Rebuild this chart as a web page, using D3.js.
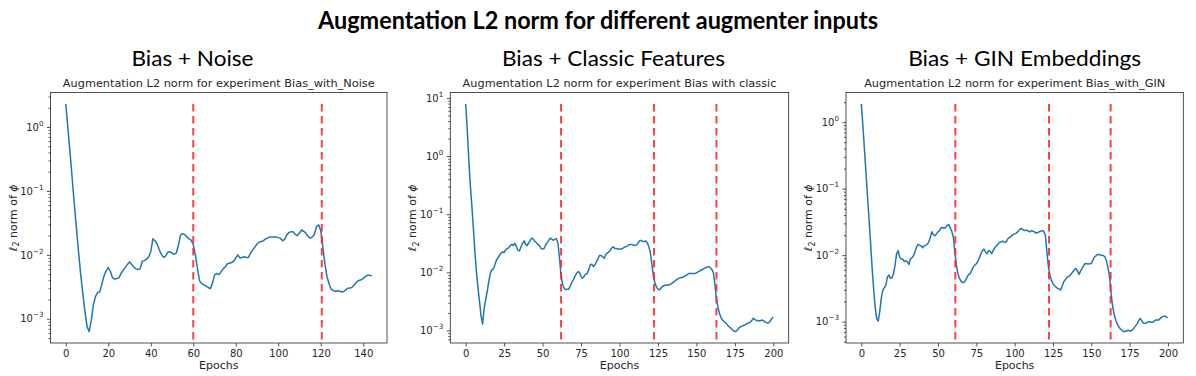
<!DOCTYPE html>
<html>
<head>
<meta charset="utf-8">
<script src="https://cdn.jsdelivr.net/npm/d3@7"></script>
<style>
  body { margin: 0; background: #fff; }
  svg { display: block; }
</style>
</head>
<body>
<svg id="chart"></svg>
<script>
// L2 norm of the augmentation, one value per epoch
const noiseNorm = [
  2.3, 0.95, 0.40, 0.158, 0.063, 0.026, 0.0112, 5.0e-3, 2.5e-3, 1.32e-3,
  7.6e-4, 6.3e-4, 9.5e-4, 1.66e-3, 2.24e-3, 2.57e-3, 2.63e-3, 3.55e-3, 4.68e-3, 5.62e-3,
  6.31e-3, 5.5e-3, 4.37e-3, 4.17e-3, 4.27e-3, 4.37e-3, 5.13e-3, 5.75e-3, 6.31e-3, 7.08e-3,
  7.76e-3, 7.08e-3, 6.46e-3, 6.03e-3, 5.89e-3, 6.03e-3, 7.94e-3, 8.13e-3, 8.51e-3, 9.33e-3,
  1.12e-2, 1.78e-2, 1.66e-2, 1.48e-2, 1.20e-2, 1.02e-2, 9.12e-3, 9.55e-3, 1.10e-2, 1.12e-2,
  1.07e-2, 1.02e-2, 1.07e-2, 1.41e-2, 2.04e-2, 2.14e-2, 2.09e-2, 1.91e-2, 1.78e-2, 1.70e-2,
  1.45e-2, 1.00e-2, 6.03e-3, 3.89e-3, 3.55e-3, 3.39e-3, 3.24e-3, 3.09e-3, 2.95e-3, 3.55e-3,
  4.79e-3, 5.13e-3, 4.90e-3, 5.37e-3, 6.03e-3, 6.46e-3, 7.24e-3, 7.41e-3, 7.59e-3, 7.94e-3,
  8.91e-3, 1.00e-2, 8.91e-3, 9.12e-3, 9.33e-3, 9.12e-3, 9.12e-3, 1.07e-2, 1.20e-2, 1.32e-2,
  1.48e-2, 1.58e-2, 1.62e-2, 1.66e-2, 1.78e-2, 1.82e-2, 1.91e-2, 1.91e-2, 1.91e-2, 1.91e-2,
  1.86e-2, 1.82e-2, 1.66e-2, 1.74e-2, 2.04e-2, 2.24e-2, 2.29e-2, 2.29e-2, 2.09e-2, 2.00e-2,
  2.19e-2, 2.45e-2, 2.34e-2, 2.19e-2, 1.95e-2, 1.82e-2, 1.91e-2, 2.09e-2, 2.75e-2, 2.95e-2,
  2.40e-2, 1.32e-2, 7.08e-3, 4.47e-3, 3.47e-3, 2.88e-3, 2.75e-3, 2.69e-3, 2.75e-3, 2.69e-3,
  2.63e-3, 2.69e-3, 2.88e-3, 3.02e-3, 3.02e-3, 3.16e-3, 3.47e-3, 3.80e-3, 3.98e-3, 4.07e-3,
  4.27e-3, 4.57e-3, 4.79e-3, 4.79e-3, 4.68e-3
];
const classicNorm = [
  7.9, 2.95, 0.89, 0.316, 0.141, 0.0575, 0.0224, 1.02e-2, 5.37e-3, 3.16e-3,
  1.74e-3, 1.29e-3, 2.40e-3, 3.39e-3, 4.68e-3, 6.92e-3, 9.55e-3, 1.10e-2, 1.15e-2, 1.35e-2,
  1.62e-2, 1.78e-2, 1.95e-2, 2.14e-2, 2.24e-2, 2.19e-2, 2.45e-2, 2.57e-2, 2.63e-2, 2.88e-2,
  3.02e-2, 2.88e-2, 3.16e-2, 2.75e-2, 2.40e-2, 2.34e-2, 2.75e-2, 3.16e-2, 3.47e-2, 3.02e-2,
  2.88e-2, 3.24e-2, 3.55e-2, 3.89e-2, 3.72e-2, 3.39e-2, 3.24e-2, 3.02e-2, 2.88e-2, 2.57e-2,
  2.51e-2, 2.57e-2, 2.95e-2, 3.24e-2, 3.55e-2, 3.89e-2, 3.72e-2, 3.55e-2, 3.72e-2, 3.80e-2,
  3.16e-2, 1.74e-2, 8.91e-3, 6.17e-3, 5.37e-3, 5.01e-3, 5.13e-3, 5.13e-3, 5.89e-3, 6.76e-3,
  7.41e-3, 8.51e-3, 9.55e-3, 1.02e-2, 1.00e-2, 8.51e-3, 7.94e-3, 8.51e-3, 9.33e-3, 9.55e-3,
  1.10e-2, 1.35e-2, 1.38e-2, 1.26e-2, 1.35e-2, 1.51e-2, 1.70e-2, 1.95e-2, 1.95e-2, 1.86e-2,
  1.74e-2, 2.00e-2, 2.14e-2, 2.24e-2, 2.40e-2, 2.63e-2, 2.75e-2, 2.57e-2, 2.57e-2, 2.51e-2,
  2.51e-2, 2.51e-2, 2.57e-2, 2.69e-2, 2.75e-2, 2.82e-2, 2.95e-2, 3.02e-2, 3.02e-2, 2.95e-2,
  2.88e-2, 2.95e-2, 3.16e-2, 3.47e-2, 3.55e-2, 3.39e-2, 3.39e-2, 3.47e-2, 3.24e-2, 2.82e-2,
  2.24e-2, 1.41e-2, 8.91e-3, 6.61e-3, 5.62e-3, 5.13e-3, 5.01e-3, 5.37e-3, 5.75e-3, 5.89e-3,
  6.03e-3, 6.03e-3, 6.03e-3, 6.17e-3, 6.46e-3, 6.76e-3, 7.08e-3, 7.41e-3, 7.76e-3, 7.94e-3,
  8.13e-3, 8.13e-3, 8.51e-3, 8.71e-3, 9.12e-3, 9.55e-3, 9.55e-3, 9.55e-3, 9.55e-3, 9.55e-3,
  9.77e-3, 1.02e-2, 1.05e-2, 1.10e-2, 1.12e-2, 1.17e-2, 1.20e-2, 1.23e-2, 1.26e-2, 1.20e-2,
  1.12e-2, 1.00e-2, 6.31e-3, 3.55e-3, 2.51e-3, 1.95e-3, 1.66e-3, 1.51e-3, 1.41e-3, 1.35e-3,
  1.26e-3, 1.17e-3, 1.12e-3, 1.05e-3, 1.00e-3, 9.55e-4, 9.77e-4, 1.05e-3, 1.12e-3, 1.17e-3,
  1.20e-3, 1.23e-3, 1.26e-3, 1.32e-3, 1.35e-3, 1.38e-3, 1.48e-3, 1.62e-3, 1.55e-3, 1.48e-3,
  1.48e-3, 1.45e-3, 1.48e-3, 1.51e-3, 1.45e-3, 1.38e-3, 1.35e-3, 1.35e-3, 1.45e-3, 1.62e-3,
  1.70e-3
];
const ginNorm = [
  1.88, 0.89, 0.40, 0.178, 0.079, 0.0355, 0.0158, 6.61e-3, 3.16e-3, 1.66e-3,
  1.12e-3, 1.02e-3, 1.41e-3, 2.24e-3, 2.95e-3, 3.24e-3, 3.55e-3, 4.68e-3, 5.01e-3, 4.47e-3,
  4.57e-3, 5.25e-3, 7.08e-3, 1.05e-2, 1.17e-2, 9.33e-3, 8.71e-3, 8.71e-3, 7.94e-3, 8.32e-3,
  7.94e-3, 7.24e-3, 8.71e-3, 9.12e-3, 9.77e-3, 1.12e-2, 1.32e-2, 1.45e-2, 1.41e-2, 1.38e-2,
  1.29e-2, 1.38e-2, 1.41e-2, 1.45e-2, 1.58e-2, 1.86e-2, 2.24e-2, 2.04e-2, 1.95e-2, 2.09e-2,
  2.24e-2, 2.34e-2, 2.57e-2, 2.63e-2, 2.51e-2, 2.63e-2, 2.82e-2, 2.88e-2, 2.57e-2, 2.29e-2,
  1.86e-2, 1.12e-2, 7.08e-3, 5.25e-3, 4.47e-3, 4.07e-3, 3.89e-3, 3.89e-3, 4.17e-3, 4.68e-3,
  5.13e-3, 5.25e-3, 5.89e-3, 6.61e-3, 7.08e-3, 7.41e-3, 8.13e-3, 9.12e-3, 1.05e-2, 1.17e-2,
  1.23e-2, 1.12e-2, 1.05e-2, 1.17e-2, 1.15e-2, 1.05e-2, 1.17e-2, 1.29e-2, 1.38e-2, 1.45e-2,
  1.55e-2, 1.58e-2, 1.62e-2, 1.58e-2, 1.55e-2, 1.66e-2, 1.82e-2, 1.86e-2, 1.95e-2, 2.04e-2,
  2.09e-2, 2.14e-2, 2.24e-2, 2.40e-2, 2.51e-2, 2.45e-2, 2.37e-2, 2.34e-2, 2.37e-2, 2.29e-2,
  2.24e-2, 2.34e-2, 2.29e-2, 2.24e-2, 2.14e-2, 2.19e-2, 2.24e-2, 2.29e-2, 2.34e-2, 2.29e-2,
  2.00e-2, 1.12e-2, 6.76e-3, 5.01e-3, 4.17e-3, 3.72e-3, 3.47e-3, 3.31e-3, 3.16e-3, 3.09e-3,
  2.99e-3, 3.39e-3, 3.98e-3, 4.27e-3, 4.57e-3, 4.79e-3, 4.90e-3, 5.25e-3, 5.62e-3, 6.03e-3,
  6.31e-3, 5.75e-3, 5.13e-3, 5.75e-3, 6.31e-3, 6.92e-3, 7.50e-3, 7.41e-3, 7.33e-3, 7.41e-3,
  7.50e-3, 8.32e-3, 9.33e-3, 9.77e-3, 1.02e-2, 1.02e-2, 1.00e-2, 1.00e-2, 9.77e-3, 9.33e-3,
  7.94e-3, 6.31e-3, 4.47e-3, 2.51e-3, 1.66e-3, 1.26e-3, 1.05e-3, 9.12e-4, 8.32e-4, 7.76e-4,
  7.41e-4, 7.08e-4, 7.08e-4, 7.24e-4, 7.41e-4, 7.24e-4, 7.24e-4, 7.59e-4, 8.13e-4, 8.71e-4,
  9.33e-4, 1.05e-3, 1.12e-3, 1.02e-3, 9.55e-4, 9.44e-4, 9.55e-4, 1.00e-3, 1.00e-3, 9.77e-4,
  9.77e-4, 1.02e-3, 1.06e-3, 1.06e-3, 1.06e-3, 1.12e-3, 1.17e-3, 1.20e-3, 1.22e-3, 1.17e-3,
  1.15e-3
];

// epochs where the red dashed markers sit
const noiseResets = [60, 120.5];
const classicResets = [62, 122.4, 163];
const ginResets = [61.3, 122.4, 162.6];

// tick labels
const noiseXTicks = [0, 20, 40, 60, 80, 100, 120, 140];
const longXTicks = [0, 25, 50, 75, 100, 125, 150, 175, 200];
const noiseYTicks = [1, 0.1, 0.01, 0.001];
const classicYTicks = [10, 1, 0.1, 0.01, 0.001];
const ginYTicks = [1, 0.1, 0.01, 0.001];

// text
const mainTitle = "Augmentation L2 norm for different augmenter inputs";
const headings = ["Bias + Noise", "Bias + Classic Features", "Bias + GIN Embeddings"];
const axesTitles = [
  "Augmentation L2 norm for experiment Bias_with_Noise",
  "Augmentation L2 norm for experiment Bias with classic",
  "Augmentation L2 norm for experiment Bias_with_GIN"
];

const width = 1196, height = 376;
const axTop = 92.5, axBottom = 343;
const mplFont = "DejaVu Sans, sans-serif";
const ink = "#262626";

const panels = [
  { values: noiseNorm, resets: noiseResets, xTicks: noiseXTicks, yTicks: noiseYTicks,
    left: 50.5, right: 387, headX: 192.5, headW: 122 },
  { values: classicNorm, resets: classicResets, xTicks: longXTicks, yTicks: classicYTicks,
    left: 450.3, right: 788.7, headX: 613.5, headW: 223 },
  { values: ginNorm, resets: ginResets, xTicks: longXTicks, yTicks: ginYTicks,
    left: 846, right: 1183.3, headX: 1024.7, headW: 233 }
];

const svg = d3.select("#chart")
    .attr("width", width)
    .attr("height", height);

svg.append("rect")
    .attr("width", width)
    .attr("height", height)
    .attr("fill", "#fff");

// slide title
svg.append("text")
    .attr("x", 598)
    .attr("y", 29)
    .attr("text-anchor", "middle")
    .attr("font-family", "Lato, sans-serif")
    .attr("font-weight", "bold")
    .attr("font-size", 25)
    .attr("textLength", 560)
    .attr("lengthAdjust", "spacingAndGlyphs")
    .text(mainTitle);

panels.forEach((p, k) => {
  const n = p.values.length - 1;
  // matplotlib style autoscale: 5% margins (log space for y)
  const x = d3.scaleLinear()
      .domain([-0.05 * n, 1.05 * n])
      .range([p.left, p.right]);
  const [lo, hi] = d3.extent(p.values).map(Math.log10);
  const m = 0.05 * (hi - lo);
  const y = d3.scaleLog()
      .domain([Math.pow(10, lo - m), Math.pow(10, hi + m)])
      .range([axBottom, axTop]);

  const g = svg.append("g");

  // panel heading (slide text)
  g.append("text")
      .attr("x", p.headX)
      .attr("y", 66)
      .attr("text-anchor", "middle")
      .attr("font-family", "Lato, sans-serif")
      .attr("font-size", 21)
      .attr("textLength", p.headW)
      .attr("lengthAdjust", "spacingAndGlyphs")
      .text(headings[k]);

  // axes title
  g.append("text")
      .attr("x", (p.left + p.right) / 2)
      .attr("y", 86.5)
      .attr("text-anchor", "middle")
      .attr("font-family", mplFont)
      .attr("font-size", 11.3)
      .attr("fill", ink)
      .text(axesTitles[k]);

  // data line
  const line = d3.line()
      .x((d, i) => x(i))
      .y(d => y(d));
  g.append("path")
      .datum(p.values)
      .attr("fill", "none")
      .attr("stroke", "#1f77b4")
      .attr("stroke-width", 1.5)
      .attr("stroke-linejoin", "round")
      .attr("d", line);

  // red dashed markers, from the bottom up to the largest value
  const vmax = d3.max(p.values);
  g.selectAll(".reset")
      .data(p.resets)
      .enter()
      .append("line")
      .attr("x1", d => x(d))
      .attr("x2", d => x(d))
      .attr("y1", y(vmax))
      .attr("y2", axBottom)
      .attr("stroke", "#ff2020")
      .attr("stroke-opacity", 0.85)
      .attr("stroke-width", 2)
      .attr("stroke-dasharray", "7.5,4.5");

  // x axis
  const xAxis = g.append("g")
      .attr("transform", `translate(0,${axBottom})`)
      .call(d3.axisBottom(x).tickValues(p.xTicks).tickSize(3.5).tickPadding(3.5));

  // y axis: minor ticks then major ticks with 10^k labels
  const [d0, d1] = y.domain();
  const minors = [];
  for (let e = Math.floor(Math.log10(d0)); e <= Math.ceil(Math.log10(d1)); e++) {
    for (let c = 2; c <= 9; c++) {
      const v = c * Math.pow(10, e);
      if (v >= d0 && v <= d1) minors.push(v);
    }
  }
  const yMinor = g.append("g")
      .attr("transform", `translate(${p.left},0)`)
      .call(d3.axisLeft(y).tickValues(minors).tickSize(2).tickFormat(""));
  const yAxis = g.append("g")
      .attr("transform", `translate(${p.left},0)`)
      .call(d3.axisLeft(y).tickValues(p.yTicks).tickSize(3.5).tickPadding(3.5));

  yAxis.selectAll(".tick text").each(function(d) {
    const t = d3.select(this).text(null);
    const e = Math.round(Math.log10(d));
    t.append("tspan").text("10");
    t.append("tspan")
        .attr("dy", -5)
        .attr("font-size", 7.2)
        .text(e < 0 ? "\u2212" + (-e) : String(e));
  });

  [xAxis, yAxis, yMinor].forEach(a => {
    a.select(".domain").remove();
    a.selectAll("line").attr("stroke", ink).attr("stroke-width", 0.8);
    a.selectAll("text")
        .attr("font-family", mplFont)
        .attr("font-size", 10)
        .attr("fill", ink);
  });

  // frame (spines)
  g.append("rect")
      .attr("x", p.left)
      .attr("y", axTop)
      .attr("width", p.right - p.left)
      .attr("height", axBottom - axTop)
      .attr("fill", "none")
      .attr("stroke", ink)
      .attr("stroke-width", 0.8);

  // axis labels
  g.append("text")
      .attr("x", (p.left + p.right) / 2)
      .attr("y", 369)
      .attr("text-anchor", "middle")
      .attr("font-family", mplFont)
      .attr("font-size", 11)
      .attr("fill", ink)
      .text("Epochs");

  const yl = g.append("text")
      .attr("transform", `translate(${p.left - 34},${(axTop + axBottom) / 2}) rotate(-90)`)
      .attr("text-anchor", "middle")
      .attr("font-family", mplFont)
      .attr("font-size", 11)
      .attr("fill", ink);
  yl.append("tspan").attr("font-style", "italic").text("\u2113");
  yl.append("tspan").attr("dy", 2.5).attr("font-size", 8).text("2");
  yl.append("tspan").attr("dy", -2.5).text(" norm of ");
  yl.append("tspan").attr("font-style", "italic").text("\u03d5");
});
</script>
</body>
</html>
